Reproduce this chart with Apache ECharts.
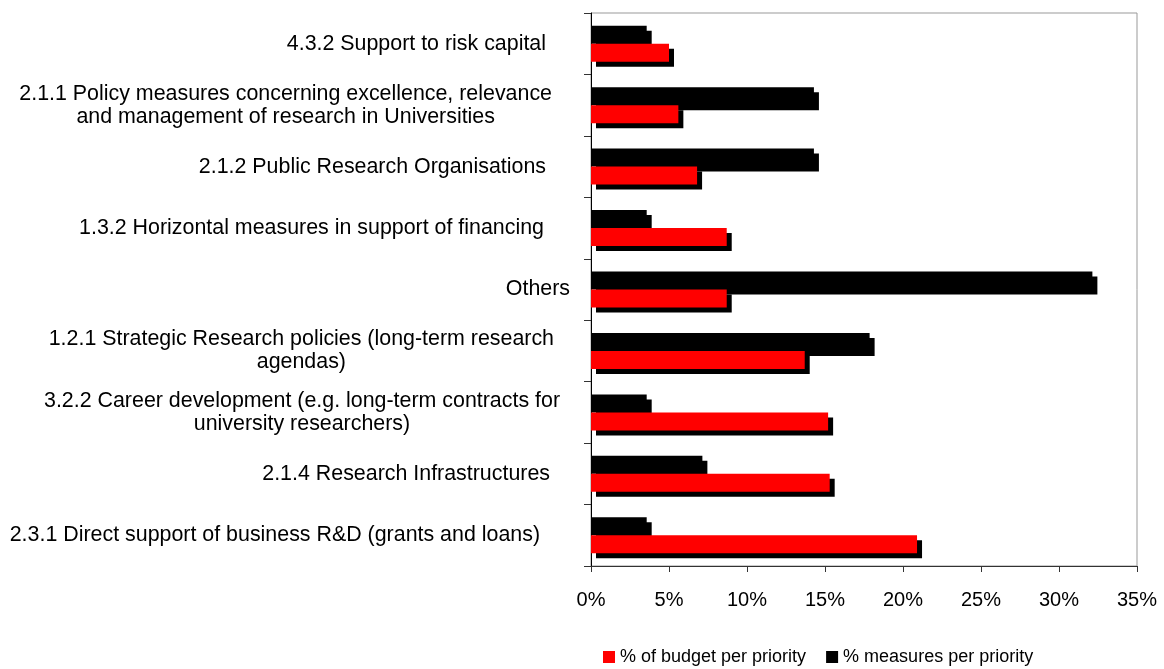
<!DOCTYPE html>
<html>
<head>
<meta charset="utf-8">
<script src="https://cdn.jsdelivr.net/npm/echarts@6/dist/echarts.min.js"></script>
<style>
  html, body { margin: 0; padding: 0; background: #fff; }
  #chart { width: 1164px; height: 669px; }
</style>
</head>
<body>
<div id="chart"></div>
<script>
// Priority categories, listed bottom to top as the category axis reads them
const categories = [
  '2.3.1 Direct support of business R&D (grants and loans)',
  '2.1.4 Research Infrastructures',
  '3.2.2 Career development (e.g. long-term contracts for\nuniversity researchers)',
  '1.2.1 Strategic Research policies (long-term research\nagendas)',
  'Others',
  '1.3.2 Horizontal measures in support of financing',
  '2.1.2 Public Research Organisations',
  '2.1.1 Policy measures concerning excellence, relevance\nand management of research in Universities',
  '4.3.2 Support to risk capital'
];

// Share of budget per priority (%)
const budgetShare = [20.9, 15.3, 15.2, 13.7, 8.7, 8.7, 6.8, 5.6, 5.0];

// Share of measures per priority (%)
const measureShare = [3.57, 7.14, 3.57, 17.86, 32.14, 3.57, 14.29, 14.29, 3.57];

const budgetName = '% of budget per priority';
const measureName = '% measures per priority';

// Value axis range and step (%)
const axisMin = 0;
const axisMax = 35;
const axisStep = 5;

// Label layout: gap between each label block's right edge and the axis (px)
const labelGaps = [51, 41, 31, 37, 21, 47, 45, 39, 45];

const FONT = 'Liberation Sans';
const CAT_FONT_SIZE = 21.4;

// Measure the widest line of each label so multi-line labels can be centred line by line
const measureCtx = document.createElement('canvas').getContext('2d');
measureCtx.font = CAT_FONT_SIZE + 'px "' + FONT + '"';
function widestLine(text) {
  return Math.max.apply(null, text.split('\n').map(function (l) { return measureCtx.measureText(l).width; }));
}

const categoryItems = categories.map(function (name, i) {
  const w = widestLine(name);
  return {
    value: name,
    textStyle: { align: 'center', padding: [0, 2 * labelGaps[i] + w, 0, 0] }
  };
});

const shadow = { shadowColor: '#000', shadowBlur: 0, shadowOffsetX: 5, shadowOffsetY: 5 };

const chart = echarts.init(document.getElementById('chart'), null, { renderer: 'canvas' });
chart.setOption({
  animation: false,
  backgroundColor: '#fff',
  grid: {
    left: 591, right: 27, top: 13, bottom: 103,
    containLabel: false, outerBoundsMode: 'none',
    show: true, borderColor: '#999', borderWidth: 1
  },
  legend: {
    data: [budgetName, measureName],
    left: 598, top: 643,
    icon: 'rect', itemWidth: 12, itemHeight: 12, itemGap: 20,
    textStyle: { fontFamily: FONT, fontSize: 18, color: '#000' },
    itemStyle: { shadowBlur: 0, shadowOffsetX: 0, shadowOffsetY: 0, shadowColor: 'rgba(0,0,0,0)' },
    selectedMode: false
  },
  xAxis: {
    type: 'value',
    min: axisMin, max: axisMax, interval: axisStep,
    axisLine: { show: true, lineStyle: { color: '#333', width: 1 } },
    axisTick: { show: true, length: 6, lineStyle: { color: '#333' } },
    splitLine: { show: false },
    axisLabel: {
      formatter: '{value}%', margin: 24,
      fontFamily: FONT, fontSize: 20, color: '#000'
    }
  },
  yAxis: {
    type: 'category',
    data: categoryItems,
    axisLine: { show: true, lineStyle: { color: '#000', width: 1 } },
    axisTick: { show: true, length: 7, lineStyle: { color: '#333' } },
    axisLabel: {
      interval: 0, margin: 0,
      fontFamily: FONT, fontSize: CAT_FONT_SIZE, color: '#000', lineHeight: 23
    }
  },
  series: [
    {
      // listed first so it sits in the upper slot of each band
      name: measureName, type: 'bar', data: measureShare,
      barWidth: 18, barGap: '0%', z: 2, silent: true,
      itemStyle: Object.assign({ color: '#000000' }, shadow)
    },
    {
      name: budgetName, type: 'bar', data: budgetShare,
      barWidth: 18, barGap: '0%', z: 3, silent: true,
      itemStyle: Object.assign({ color: '#ff0000' }, shadow)
    }
  ]
});
</script>
</body>
</html>
